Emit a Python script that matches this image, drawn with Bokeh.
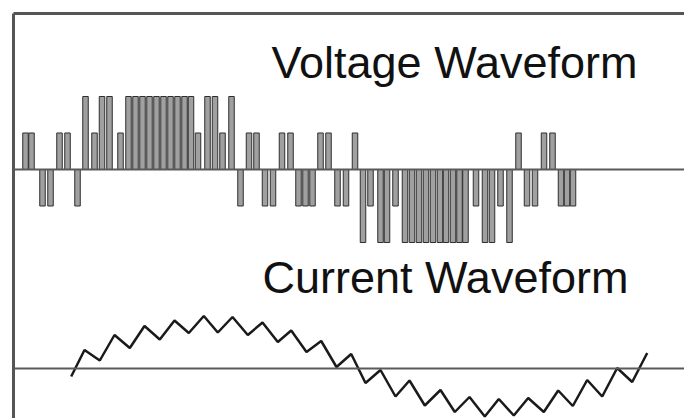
from bokeh.plotting import figure
from bokeh.models import Range1d, LinearAxis, FixedTicker, Span, Label, ColumnDataSource
from bokeh.embed import file_html
from bokeh.resources import INLINE

# ---- data (time in arbitrary units, voltage in levels, current normalised) ----
pulse_centers = [25, 31, 42, 50, 59, 67, 77, 85, 94, 101.5, 109, 120,
                 128, 135, 142, 149, 156, 163, 170, 177, 184, 190.5,
                 197.5, 207, 214.5, 222, 231, 240, 248.5, 256, 264.5, 272.5,
                 281.5, 290, 298, 305, 312, 320, 328, 337, 345.5, 354.5,
                 362.5, 370, 380, 386.5, 395,
                 404.5, 411.5, 418.5, 425.5, 432.5, 439.5, 445.5, 452.5, 459, 465,
                 475.5, 484.5, 491.5, 500, 509, 518, 526.5, 534.5, 543.5, 552,
                 560.5, 566.5, 572.5]
pulse_levels = [1, 1, -1, -1, 1, 1, -1, 2, 1, 2, 2, 1,
                2, 2, 2, 2, 2, 2, 2, 2, 2, 2,
                1, 2, 2, 1, 2, -1, 1, 1, -1, -1,
                1, 1, -1, -1, -1, 1, 1, -1, -1, 1,
                -2, -1, -2, -2, -1,
                -2, -2, -2, -2, -2, -2, -2, -2, -2, -2,
                -1, -2, -2, -1, -2, 1, -1, -1, 1, 1,
                -1, -1, -1]

current_t = [70.7, 84, 99.3, 114, 129.3, 144, 159.3, 174, 188.3, 203.3, 217.3,
             232, 247.3, 262, 277.3, 290.7, 306, 320.7, 336, 350.7, 365, 380,
             395, 409, 424.3, 440, 454.3, 469, 484.3, 498.3, 513.3, 527.7,
             543.3, 557.7, 572.3, 586.7, 601.7, 616.7, 631.7, 646.7]
current_i = [-0.16, 0.37, 0.16, 0.67, 0.41, 0.85, 0.58, 0.96, 0.71, 1.05, 0.72,
             1.03, 0.67, 0.92, 0.53, 0.76, 0.33, 0.55, 0.03, 0.29, -0.29, -0.03,
             -0.56, -0.24, -0.74, -0.43, -0.87, -0.57, -0.96, -0.61, -0.94, -0.59,
             -0.87, -0.44, -0.75, -0.23, -0.56, 0.01, -0.27, 0.31]

titles = ["Voltage Waveform", "Current Waveform"]

# ---- figure ----
p = figure(width=684, height=418, output_backend="svg", toolbar_location=None,
           x_range=Range1d(13, 684), y_range=Range1d(-6.822, 4.274),
           min_border_left=13, min_border_top=13, min_border_right=0, min_border_bottom=0,
           x_axis_location=None, y_axis_location=None)
p.extra_y_ranges = {"current": Range1d(-1.0, 7.1)}
p.grid.visible = False
p.outline_line_color = None
p.background_fill_color = "white"
p.border_fill_color = "white"

for loc in ("left", "above"):
    ax = LinearAxis(ticker=FixedTicker(ticks=[]), axis_line_color="#555555",
                    axis_line_width=3, major_tick_line_color=None,
                    minor_tick_line_color=None, major_label_text_font_size="0px")
    p.add_layout(ax, loc)

# baselines
p.add_layout(Span(location=0, dimension="width", line_color="#5a5a5a", line_width=2))
p.add_layout(Span(location=0, dimension="width", line_color="#5a5a5a", line_width=2,
                  y_range_name="current"))

# voltage pulses
half_w = 2.75
src = ColumnDataSource(dict(
    left=[c - half_w for c in pulse_centers],
    right=[c + half_w for c in pulse_centers],
    top=pulse_levels,
    bottom=[0] * len(pulse_levels)))
p.quad(left="left", right="right", top="top", bottom="bottom", source=src,
       fill_color="#a0a0a0", line_color="#2e2e2e", line_width=1)

# current waveform
p.line(current_t, current_i, y_range_name="current", line_color="#1a1a1a", line_width=2.5)

# titles
p.add_layout(Label(x=271, y=2.94, text=titles[0], text_font="Liberation Sans",
                   text_font_size="45px", text_color="#111111", text_baseline="alphabetic"))
p.add_layout(Label(x=262, y=-2.96, text=titles[1], text_font="Liberation Sans",
                   text_font_size="45px", text_color="#111111", text_baseline="alphabetic"))

open("out.html", "w").write(file_html(p, INLINE))
